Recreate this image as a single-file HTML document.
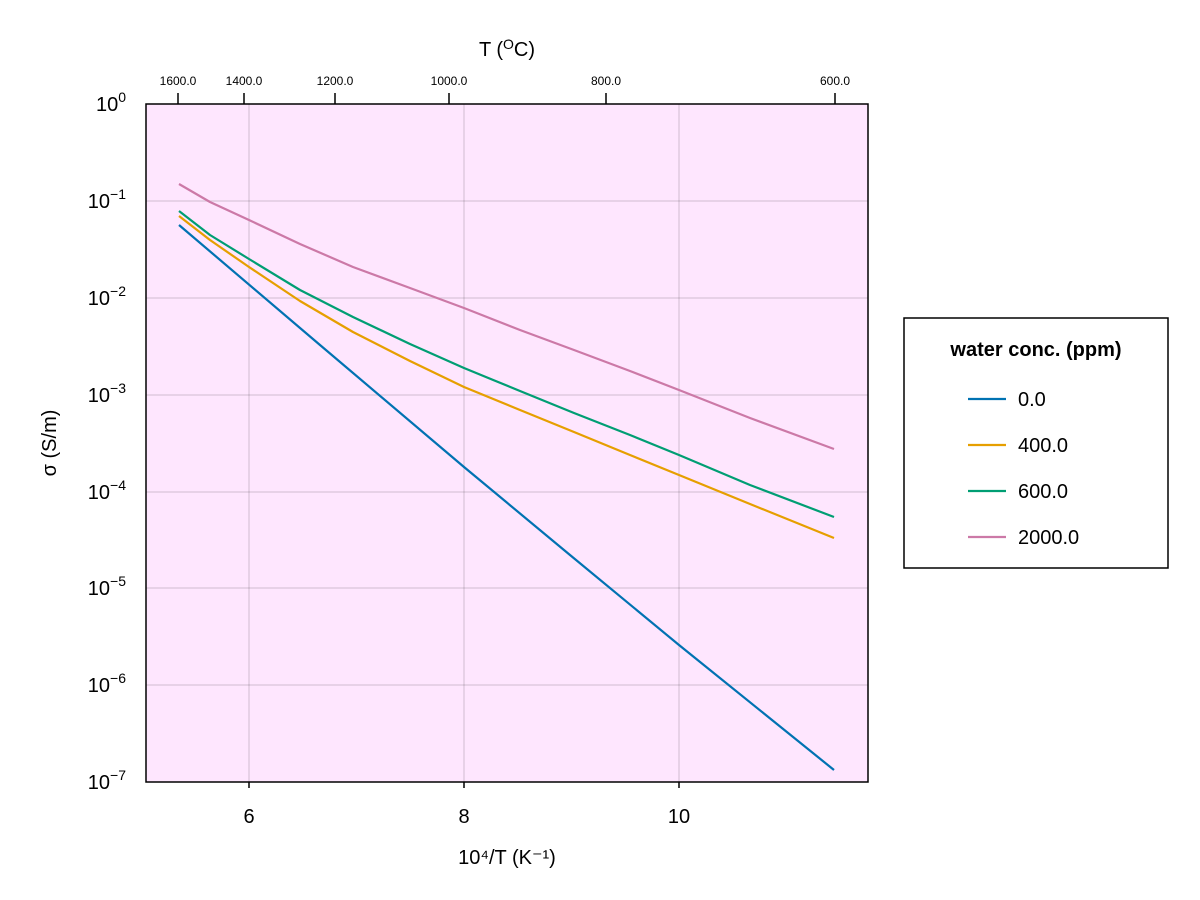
<!DOCTYPE html>
<html><head><meta charset="utf-8"><style>body{margin:0;background:#fff}svg{display:block;font-family:"Liberation Sans",Arial,sans-serif}</style></head>
<body>
<svg width="1200" height="900" viewBox="0 0 1200 900">
<rect x="146" y="104" width="722" height="678" fill="#fee6fe"/>
<g stroke="#000" stroke-opacity="0.12" stroke-width="1.5">
<line x1="249" y1="104" x2="249" y2="782"/><line x1="464" y1="104" x2="464" y2="782"/><line x1="679" y1="104" x2="679" y2="782"/>
<line x1="146" y1="201" x2="868" y2="201"/><line x1="146" y1="298" x2="868" y2="298"/><line x1="146" y1="395" x2="868" y2="395"/><line x1="146" y1="492" x2="868" y2="492"/><line x1="146" y1="588" x2="868" y2="588"/><line x1="146" y1="685" x2="868" y2="685"/>
</g>
<g fill="none" stroke-width="2.2" stroke-linejoin="round">
<polyline stroke="#0072b2" points="179,225 320,345 464,467 570,555 679,645 834,770"/>
<polyline stroke="#e69f00" points="179,216 210,240 249,267 300,301 353,332 410,361 464,387 520,410 574,432 630,455 679,475 750,504 834,538"/>
<polyline stroke="#009e73" points="179,211 210,235 249,259 300,290 353,317 410,344 464,368 520,391 574,413 630,435 679,455 750,485 834,517"/>
<polyline stroke="#cc79a7" points="179,184 210,202 249,220 300,244 353,267 410,288 464,308 520,330 574,350 630,371 679,390 750,418 834,449"/>
</g>
<rect x="146" y="104" width="722" height="678" fill="none" stroke="#000" stroke-width="1.5"/>
<g stroke="#000" stroke-width="1.5">
<line x1="249" y1="782" x2="249" y2="788"/><line x1="464" y1="782" x2="464" y2="788"/><line x1="679" y1="782" x2="679" y2="788"/>
<line x1="178" y1="104" x2="178" y2="93"/><line x1="244" y1="104" x2="244" y2="93"/><line x1="335" y1="104" x2="335" y2="93"/><line x1="449" y1="104" x2="449" y2="93"/><line x1="606" y1="104" x2="606" y2="93"/><line x1="835" y1="104" x2="835" y2="93"/>
</g>
<g font-size="20" text-anchor="middle" fill="#000">
<text x="249" y="823">6</text><text x="464" y="823">8</text><text x="679" y="823">10</text>
<text x="507" y="864">10⁴/T (K⁻¹)</text>
<text x="507" y="56">T (<tspan font-size="14" dy="-7">O</tspan><tspan dy="7">C)</tspan></text>
</g>
<g font-size="12" text-anchor="middle">
<text x="178" y="85">1600.0</text><text x="244" y="85">1400.0</text><text x="335" y="85">1200.0</text><text x="449" y="85">1000.0</text><text x="606" y="85">800.0</text><text x="835" y="85">600.0</text>
</g>
<g font-size="20" text-anchor="end">
<text x="126" y="111">10<tspan font-size="14" dy="-9">0</tspan></text>
<text x="126" y="208">10<tspan font-size="14" dy="-9">−1</tspan></text>
<text x="126" y="305">10<tspan font-size="14" dy="-9">−2</tspan></text>
<text x="126" y="402">10<tspan font-size="14" dy="-9">−3</tspan></text>
<text x="126" y="499">10<tspan font-size="14" dy="-9">−4</tspan></text>
<text x="126" y="595">10<tspan font-size="14" dy="-9">−5</tspan></text>
<text x="126" y="692">10<tspan font-size="14" dy="-9">−6</tspan></text>
<text x="126" y="789">10<tspan font-size="14" dy="-9">−7</tspan></text>
</g>
<text x="56" y="443" font-size="20" text-anchor="middle" transform="rotate(-90 56 443)">σ (S/m)</text>
<rect x="904" y="318" width="264" height="250" fill="#fff" stroke="#000" stroke-width="1.5"/>
<text x="1036" y="356" font-size="20" font-weight="bold" text-anchor="middle">water conc. (ppm)</text>
<g stroke-width="2.2">
<line x1="968" y1="399" x2="1006" y2="399" stroke="#0072b2"/>
<line x1="968" y1="445" x2="1006" y2="445" stroke="#e69f00"/>
<line x1="968" y1="491" x2="1006" y2="491" stroke="#009e73"/>
<line x1="968" y1="537" x2="1006" y2="537" stroke="#cc79a7"/>
</g>
<g font-size="20">
<text x="1018" y="406">0.0</text><text x="1018" y="452">400.0</text><text x="1018" y="498">600.0</text><text x="1018" y="544">2000.0</text>
</g>
</svg>
</body></html>
